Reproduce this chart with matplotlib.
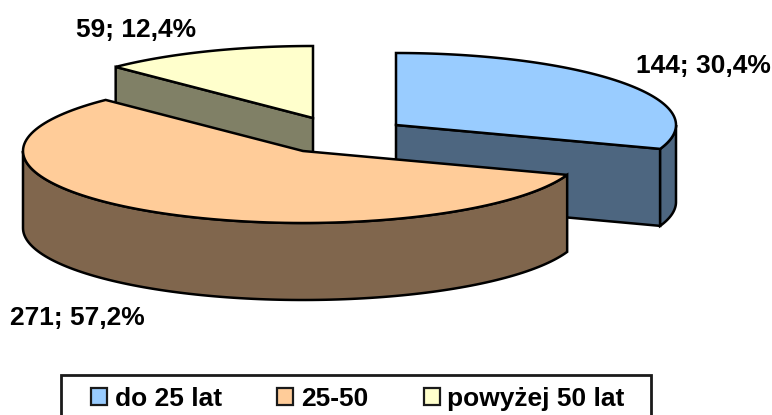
import numpy as np
import matplotlib
matplotlib.use("Agg")
import matplotlib.pyplot as plt
from matplotlib.patches import Polygon, Rectangle

categories = ["do 25 lat", "25-50", "powyżej 50 lat"]
values = [144, 271, 59]
percents = ["30,4%", "57,2%", "12,4%"]
colors = ["#99CCFF", "#FFCC99", "#FFFFCC"]
dark = ["#4D6680", "#80664D", "#808066"]

plt.rcParams["font.family"] = ["Liberation Sans", "DejaVu Sans"]
W, H = 772, 415
fig = plt.figure(figsize=(W / 100, H / 100), dpi=100)
ax = fig.add_axes([0, 0, 1, 1])
ax.set_xlim(0, W)
ax.set_ylim(H, 0)
ax.axis("off")

A, B, D = 280, 72, 77
centers = [(396, 125), (303, 151), (313, 118)]
LW = 1.8
FS = 19

sweeps = np.array(values) / sum(values) * 360
ends = 90 - np.cumsum(sweeps)
starts = ends + sweeps


def arc(c, t0, t1, n=120):
    t = np.radians(np.linspace(t0, t1, n))
    return np.column_stack([c[0] + A * np.cos(t), c[1] - B * np.sin(t)])


def poly(pts, fc, z):
    ax.add_patch(Polygon(pts, closed=True, fc=fc, ec="black", lw=LW, joinstyle="miter", zorder=z))


def rim(c, t0, t1, fc, z):
    a = arc(c, t0, t1)
    poly(np.vstack([a, (a + [0, D])[::-1]]), fc, z)


def cut(c, t, fc, z):
    p = arc(c, t, t, 1)[0]
    poly([c, p, (p[0], p[1] + D), (c[0], c[1] + D)], fc, z)


def top(c, t0, t1, fc, z):
    poly(np.vstack([[c], arc(c, t0, t1)]), fc, z)


# yellow (back)
cut(centers[2], starts[2], dark[2], 1)
top(centers[2], starts[2], ends[2], colors[2], 2)
# blue (right)
cut(centers[0], ends[0], dark[0], 3)
rim(centers[0], ends[0], 0, dark[0], 3)
top(centers[0], starts[0], ends[0], colors[0], 4)
# orange (front)
rim(centers[1], ends[0], -180, dark[1], 5)
top(centers[1], starts[1], ends[1], colors[1], 6)

label_pos = [(636, 73), (10, 325), (76, 37)]
for v, p, (x, y) in zip(values, percents, label_pos):
    ax.text(x, y, f"{v}; {p}", fontsize=FS, fontweight="bold", ha="left", va="baseline", color="black", zorder=10)

# legend box: its lower edge lies outside the canvas, as in the reference
ax.add_patch(Rectangle((61, 375), 590, 45, fc="white", ec="#1a1a1a", lw=2, zorder=9))
swatch_x = [91, 277, 424]
text_x = [115, 301, 447]
for name, col, sx, tx in zip(categories, colors, swatch_x, text_x):
    ax.add_patch(Rectangle((sx, 388), 16, 17, fc=col, ec="#1a1a1a", lw=1.6, zorder=10))
    ax.text(tx, 406, name, fontsize=FS, fontweight="bold", ha="left", va="baseline", color="black", zorder=10)

fig.savefig("out.png", dpi=100)
